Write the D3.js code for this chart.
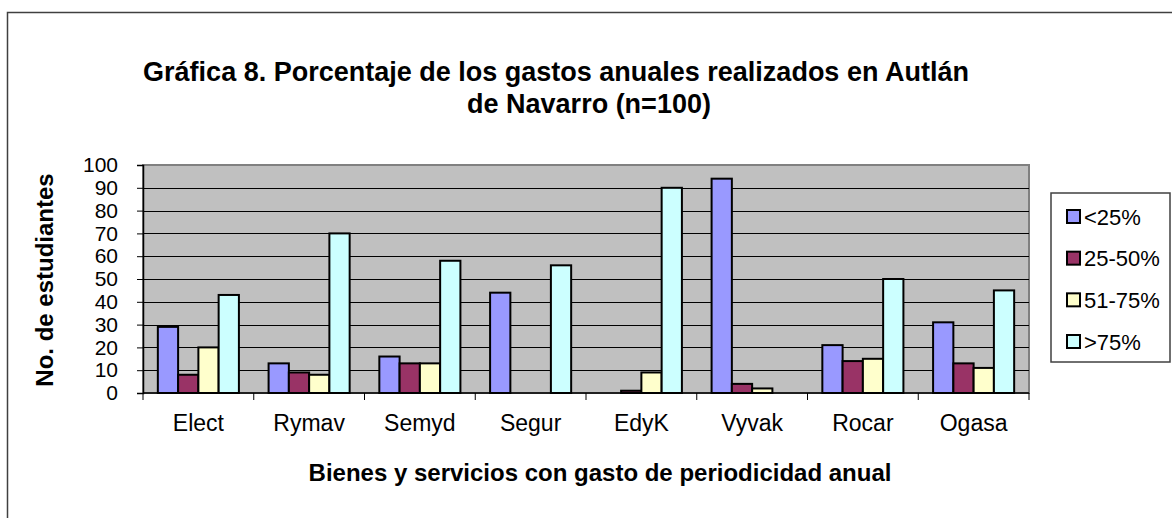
<!DOCTYPE html>
<html>
<head>
<meta charset="utf-8">
<script src="https://cdn.jsdelivr.net/npm/d3@7"></script>
<style>
  body { margin: 0; background: #fff; }
  svg { display: block; font-family: "Liberation Sans", Arial, sans-serif; }
</style>
</head>
<body>
<svg id="chart" width="1172" height="518"></svg>
<script>
const categories = ["Elect", "Rymav", "Semyd", "Segur", "EdyK", "Vyvak", "Rocar", "Ogasa"];
const seriesNames = ["<25%", "25-50%", "51-75%", ">75%"];
const lessThan25 = [29, 13, 16, 44, 0, 94, 21, 31];
const from25to50 = [8, 9, 13, 0, 1, 4, 14, 13];
const from51to75 = [20, 8, 13, 0, 9, 2, 15, 11];
const moreThan75 = [43, 70, 58, 56, 90, 0, 50, 45];
const yTicks = [0, 10, 20, 30, 40, 50, 60, 70, 80, 90, 100];

const seriesValues = [lessThan25, from25to50, from51to75, moreThan75];
const colors = ["#9999FF", "#993366", "#FFFFCC", "#CCFFFF"];

const plot = { left: 143, right: 1029, top: 165, bottom: 393 };
const svg = d3.select("#chart");

// outer chart frame (right and bottom edges fall outside the picture)
svg.append("rect").attr("x", 7.5).attr("y", 12.5).attr("width", 1200).attr("height", 600)
    .attr("fill", "#fff").attr("stroke", "#404040").attr("stroke-width", 1.5);

const x0 = d3.scaleBand().domain(categories).range([plot.left, plot.right])
    .paddingInner(0.268).paddingOuter(0.134);
const x1 = d3.scaleBand().domain(seriesNames).range([0, x0.bandwidth()]);
const y = d3.scaleLinear().domain([0, 100]).range([plot.bottom, plot.top]);

svg.append("rect").attr("x", plot.left).attr("y", plot.top)
    .attr("width", plot.right - plot.left).attr("height", plot.bottom - plot.top)
    .attr("fill", "#C0C0C0").attr("stroke", "#808080").attr("stroke-width", 2);

// gridlines
svg.append("g").selectAll("line").data(yTicks.filter(d => d > 0 && d < 100)).enter().append("line")
    .attr("x1", plot.left).attr("x2", plot.right)
    .attr("y1", d => Math.round(y(d)) + 0.5).attr("y2", d => Math.round(y(d)) + 0.5)
    .attr("stroke", "#000").attr("stroke-width", 1);

// bars
const rows = [];
categories.forEach((c, i) => seriesNames.forEach((s, j) => rows.push({ cat: c, key: s, value: seriesValues[j][i], color: colors[j] })));
svg.append("g").selectAll("rect").data(rows.filter(d => d.value > 0)).enter().append("rect")
    .attr("x", d => x0(d.cat) + x1(d.key)).attr("y", d => y(d.value))
    .attr("width", x1.bandwidth()).attr("height", d => plot.bottom - y(d.value))
    .attr("fill", d => d.color).attr("stroke", "#000").attr("stroke-width", 2);

// y axis
const yAxis = svg.append("g").attr("transform", `translate(${plot.left},0)`)
    .call(d3.axisLeft(y).tickValues(yTicks).tickSize(6).tickPadding(19));
yAxis.select(".domain").attr("stroke", "#000").attr("stroke-width", 1.5);
yAxis.selectAll("text").attr("font-size", 21).attr("fill", "#000").attr("font-family", "Liberation Sans, Arial, sans-serif");

// x axis with ticks at category boundaries
const xAxis = svg.append("g").attr("transform", `translate(0,${plot.bottom})`);
xAxis.append("line").attr("x1", plot.left).attr("x2", plot.right).attr("y1", 0).attr("y2", 0)
    .attr("stroke", "#000").attr("stroke-width", 1.5);
const step = x0.step();
xAxis.selectAll(".tick").data(d3.range(categories.length + 1)).enter().append("line")
    .attr("x1", i => plot.left + i * step).attr("x2", i => plot.left + i * step)
    .attr("y1", 0).attr("y2", 7).attr("stroke", "#000");
xAxis.selectAll("text").data(categories).enter().append("text")
    .attr("x", d => x0(d) + x0.bandwidth() / 2).attr("y", 38)
    .attr("text-anchor", "middle").attr("font-size", 23).text(d => d);

// titles
svg.append("text").attr("x", 556).attr("y", 81).attr("text-anchor", "middle")
    .attr("font-size", 27).attr("font-weight", "bold")
    .text("Gráfica 8. Porcentaje de los gastos anuales realizados en Autlán");
svg.append("text").attr("x", 589).attr("y", 113).attr("text-anchor", "middle")
    .attr("font-size", 27).attr("font-weight", "bold").text("de Navarro (n=100)");
svg.append("text").attr("x", 600).attr("y", 481).attr("text-anchor", "middle")
    .attr("font-size", 24).attr("font-weight", "bold")
    .text("Bienes y servicios con gasto de periodicidad anual");
svg.append("text").attr("transform", "translate(53,280) rotate(-90)").attr("text-anchor", "middle")
    .attr("font-size", 24).attr("font-weight", "bold").text("No. de estudiantes");

// legend
const legend = svg.append("g");
legend.append("rect").attr("x", 1051).attr("y", 193).attr("width", 119).attr("height", 169)
    .attr("fill", "#fff").attr("stroke", "#404040").attr("stroke-width", 1.5);
const ly = d3.scalePoint().domain(seriesNames).range([216.5, 341.5]);
const item = legend.selectAll(".item").data(seriesNames).enter().append("g")
    .attr("transform", d => `translate(1067,${ly(d)})`);
item.append("rect").attr("x", 0).attr("y", -6.5).attr("width", 13).attr("height", 13)
    .attr("fill", (d, i) => colors[i]).attr("stroke", "#000").attr("stroke-width", 2);
item.append("text").attr("x", 17).attr("y", 8).attr("font-size", 22).text(d => d);
</script>
</body>
</html>
